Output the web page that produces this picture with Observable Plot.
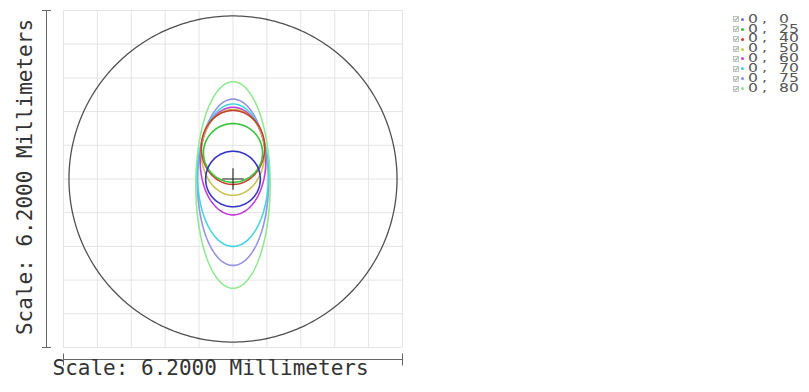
<!DOCTYPE html>
<html>
<head>
<meta charset="utf-8">
<script src="https://cdn.jsdelivr.net/npm/d3@7"></script>
<script src="https://cdn.jsdelivr.net/npm/@observablehq/plot@0.6"></script>
<style>
  body { margin: 0; background: #fff; }
  #wrap { position: relative; width: 809px; height: 392px; overflow: hidden; }
  .col { position: absolute; top: 14.6px; display: block; line-height: 9.9px; font-family: "DejaVu Sans", sans-serif; font-size: 12px; color: #555; white-space: pre; transform: scaleX(1.3); transform-origin: left top; }
  .chk { position: absolute; display: block; width: 6px; height: 6px; line-height: 0; }
  .chk svg { display: block; }
  .dot { position: absolute; display: block; width: 3px; height: 3px; border-radius: 50%; }
</style>
</head>
<body>
<div id="wrap"></div>
<script>
// Field angles (x, y) in degrees
const fieldX = [0, 0, 0, 0, 0, 0, 0, 0];
const fieldY = [0, 25, 40, 50, 60, 70, 75, 80];
// Spot outline per field: centre offset (mm) and semi-axes (mm)
const centerX = [0, 0, 0, 0, 0, 0, 0, 0];
const centerY = [0, 0.48, 0.58, 0.49, 0.33, 0.07, -0.06, -0.11];
const semiX   = [0.50, 0.54, 0.58, 0.58, 0.60, 0.65, 0.65, 0.68];
const semiY   = [0.51, 0.54, 0.68, 0.79, 0.99, 1.31, 1.53, 1.90];
const colors  = ["#3434c4", "#3cc43c", "#c8402e", "#c8c24e", "#c23ed6", "#44d6e0", "#9494e2", "#94e894"];
const dotColors = ["#6f6fe6", "#2fbf2f", "#d93030", "#c9c940", "#d23fd2", "#3fd6d6", "#8c8ce6", "#8fe08f"];
// Reference circle radius (mm) and scale
const circleRadius = [3.0];
const scaleMM = 6.2;
const gridTicks = [-3.1, -2.48, -1.86, -1.24, -0.62, 0, 0.62, 1.24, 1.86, 2.48, 3.1];
const scaleLabel = "Scale: 6.2000 Millimeters";

const lo = -scaleMM / 2, hi = scaleMM / 2;

// outline points (shape of each ellipse from its parameters)
const N = 160;
const spots = [];
for (let f = fieldY.length - 1; f >= 0; f--) {
  for (let k = 0; k <= N; k++) {
    const t = (k / N) * 2 * Math.PI;
    spots.push({field: f, color: colors[f], x: centerX[f] + semiX[f] * Math.cos(t), y: centerY[f] + semiY[f] * Math.sin(t)});
  }
}
const circle = [];
for (let k = 0; k <= 360; k++) {
  const t = (k / 360) * 2 * Math.PI;
  circle.push({x: circleRadius[0] * Math.cos(t), y: circleRadius[0] * Math.sin(t)});
}

const vbar = {draw(ctx) { ctx.moveTo(0, -6); ctx.lineTo(0, 6); }};
const hbar = {draw(ctx) { ctx.moveTo(-4.5, 0); ctx.lineTo(4.5, 0); }};
const mono = "'DejaVu Sans Mono', monospace";

const chart = Plot.plot({
  width: 809,
  height: 392,
  marginLeft: 63,
  marginRight: 407,
  marginTop: 10,
  marginBottom: 45,
  x: {domain: [lo, hi], axis: null},
  y: {domain: [lo, hi], axis: null},
  color: {type: "identity"},
  style: {background: "transparent", overflow: "visible"},
  marks: [
    Plot.ruleX(gridTicks, {stroke: "#e4e4e4", strokeWidth: 1}),
    Plot.ruleY(gridTicks, {stroke: "#e4e4e4", strokeWidth: 1}),
    Plot.line(circle, {x: "x", y: "y", stroke: "#505050", strokeWidth: 1.3}),
    Plot.line(spots, {x: "x", y: "y", z: "field", stroke: "color", strokeWidth: 1.6}),
    Plot.dot([0], {x: 0, y: 0, symbol: "plus", r: 7, stroke: "#222", strokeWidth: 1.1}),
    // bottom scale bar
    Plot.ruleY([lo], {dy: 12, stroke: "#666", strokeWidth: 1}),
    Plot.dot([lo, hi], {x: d => d, y: lo, dy: 12, symbol: vbar, fill: "none", stroke: "#666", strokeWidth: 1}),
    // left scale bar
    Plot.ruleX([lo], {dx: -17, stroke: "#666", strokeWidth: 1}),
    Plot.dot([lo, hi], {x: lo, y: d => d, dx: -17, symbol: hbar, fill: "none", stroke: "#666", strokeWidth: 1}),
    Plot.text([scaleLabel], {frameAnchor: "bottom-left", textAnchor: "start", lineAnchor: "middle", dx: -11, dy: 21, fontSize: 21, fontFamily: mono, fill: "#333"}),
    Plot.text([scaleLabel], {frameAnchor: "left", rotate: -90, textAnchor: "middle", lineAnchor: "middle", dx: -38, dy: -2, fontSize: 21, fontFamily: mono, fill: "#333"})
  ]
});
const wrap = document.getElementById("wrap");
wrap.appendChild(chart);

// legend (HTML, positioned over the right margin): three text columns
const rowMid0 = 19.3, rowStep = 9.9;
function addCol(left, lines) {
  const d = document.createElement("div");
  d.className = "col";
  d.style.left = left + "px";
  d.textContent = lines.join("\n");
  wrap.appendChild(d);
}
addCol(748, fieldX.map(String));
addCol(762, fieldX.map(() => ","));
addCol(779, fieldY.map(String));
fieldY.forEach((fy, i) => {
  const mid = rowMid0 + i * rowStep;
  const chk = document.createElement("div");
  chk.className = "chk";
  chk.style.left = "733px"; chk.style.top = (mid - 3) + "px";
  chk.innerHTML = '<svg width="6" height="6" viewBox="0 0 6 6"><rect x="0.5" y="0.5" width="5" height="5" fill="#f4f4f4" stroke="#b5b5b5" stroke-width="0.8"/><path d="M1.3 3.1 L2.6 4.4 L4.9 1.3" fill="none" stroke="#6aa86a" stroke-width="0.9"/></svg>';
  wrap.appendChild(chk);
  const dot = document.createElement("div");
  dot.className = "dot";
  dot.style.left = "741px"; dot.style.top = (mid - 1.5) + "px";
  dot.style.background = dotColors[i];
  wrap.appendChild(dot);
});
</script>
</body>
</html>
